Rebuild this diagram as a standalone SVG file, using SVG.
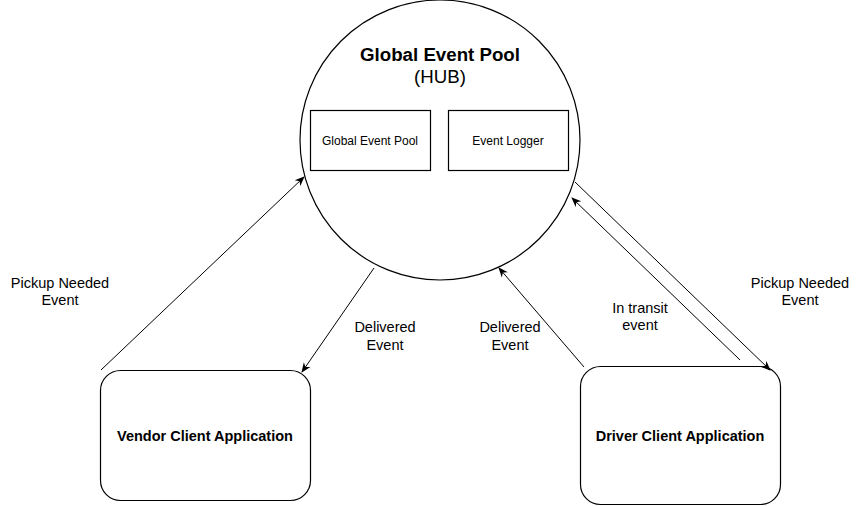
<svg xmlns="http://www.w3.org/2000/svg" width="861" height="506" viewBox="0 0 861 506">
<style>
.shape{fill:#fff;stroke:#000;stroke-width:1.2}
.conn{stroke:#000;stroke-width:1;fill:none;marker-end:url(#arr)}
text{font-family:"Liberation Sans",Arial,sans-serif;fill:#000;text-anchor:middle}
.lbl{font-size:14.5px}
.bold{font-weight:bold}
</style>
<defs>
<marker id="arr" viewBox="0 0 10 10" refX="9" refY="5" markerWidth="10" markerHeight="10" markerUnits="userSpaceOnUse" orient="auto">
<path d="M0,1 L10,5 L0,9 L3,5 Z" fill="#000"/>
</marker>
</defs>
<rect width="861" height="506" fill="#fff"/>
<g id="hub">
<circle class="shape" cx="440" cy="140" r="140"/>
<text class="bold" x="440" y="61" font-size="18.7">Global Event Pool</text>
<text x="440" y="83" font-size="18.7">(HUB)</text>
</g>
<g id="pool">
<rect class="shape" x="310.5" y="110.5" width="120" height="60"/>
<text x="370" y="145" font-size="12">Global Event Pool</text>
</g>
<g id="logger">
<rect class="shape" x="448.5" y="110.5" width="120" height="60"/>
<text x="508" y="145" font-size="12">Event Logger</text>
</g>
<g id="vendor">
<rect class="shape" x="100.5" y="370.5" width="210" height="130" rx="20" ry="20"/>
<text class="lbl bold" x="205" y="441">Vendor Client Application</text>
</g>
<g id="driver">
<rect class="shape" x="580.5" y="366.5" width="200" height="138" rx="20" ry="20"/>
<text class="lbl bold" x="680" y="441">Driver Client Application</text>
</g>
<g id="connectors">
<line class="conn" x1="101" y1="370" x2="304" y2="177"/>
<line class="conn" x1="374" y1="268" x2="302" y2="372"/>
<line class="conn" x1="584" y1="367" x2="499" y2="268"/>
<line class="conn" x1="740" y1="360" x2="572" y2="198"/>
<line class="conn" x1="575" y1="182" x2="770" y2="370"/>
</g>
<g id="labels" class="lbl">
<text x="60" y="288">Pickup Needed</text>
<text x="60" y="305">Event</text>
<text x="385" y="332">Delivered</text>
<text x="385" y="350">Event</text>
<text x="510" y="332">Delivered</text>
<text x="510" y="350">Event</text>
<text x="640" y="313">In transit</text>
<text x="640" y="330">event</text>
<text x="800" y="288">Pickup Needed</text>
<text x="800" y="305">Event</text>
</g>
</svg>
